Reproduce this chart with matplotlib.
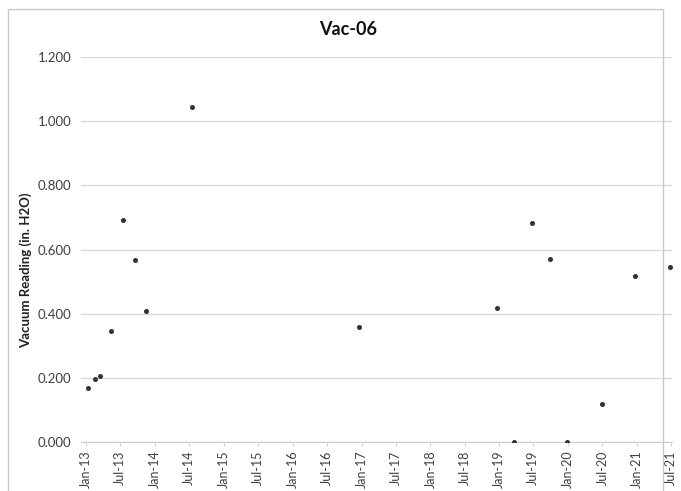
import matplotlib
matplotlib.use("Agg")
import matplotlib.pyplot as plt
import matplotlib.dates as mdates
import matplotlib.ticker as mticker
from matplotlib.patches import Rectangle
import pandas as pd

plt.rcParams['font.family'] = ['Lato', 'DejaVu Sans']

# readings
dates = ['2013-01-10', '2013-02-15', '2013-03-18', '2013-05-12', '2013-07-15',
         '2013-09-15', '2013-11-12', '2014-07-18', '2016-12-20', '2018-12-20',
         '2019-03-20', '2019-06-25', '2019-09-25', '2019-12-28', '2020-06-28',
         '2020-12-20', '2021-06-25']
values = [0.169, 0.196, 0.205, 0.347, 0.693,
          0.566, 0.408, 1.045, 0.357, 0.417,
          0.000, 0.682, 0.571, 0.000, 0.120,
          0.516, 0.545]

df = pd.DataFrame({'date': pd.to_datetime(dates), 'value': values})

fig = plt.figure(figsize=(6.81, 4.91), dpi=100)
ax = fig.add_axes([0.119, 0.0998, 0.868, 0.784])

# chart area border
fig.patches.append(Rectangle((8 / 681, -0.05), 655 / 681, 1.05 - 9 / 491,
                             transform=fig.transFigure, fill=False,
                             edgecolor='#c8c8c8', lw=1))

ax.plot(df['date'], df['value'], linestyle='none', marker='o',
        markersize=2.6, color='#333333', zorder=3)

ax.set_ylim(0, 1.2)
ax.set_xlim(pd.Timestamp('2012-12-05'), pd.Timestamp('2021-07-06'))
ax.yaxis.set_major_locator(mticker.MultipleLocator(0.2))
ax.yaxis.set_major_formatter(mticker.FormatStrFormatter('%.3f'))
ax.xaxis.set_major_locator(mdates.MonthLocator(bymonth=[1, 7]))
ax.xaxis.set_major_formatter(mdates.DateFormatter('%b-%y'))

ax.grid(axis='y', color='#d9d9d9', lw=1)
ax.set_axisbelow(True)
for s in ['top', 'right', 'left']:
    ax.spines[s].set_visible(False)
ax.spines['bottom'].set_color('#d0d0d0')

ax.tick_params(axis='y', length=0, labelsize=9.5, labelcolor='#404040', pad=7)
ax.tick_params(axis='x', length=3, color='#d0d0d0', labelsize=9,
               labelcolor='#404040', labelrotation=90, pad=3)

ax.set_ylabel('Vacuum Reading (in. H2O)', fontsize=9.5, fontweight='bold',
              color='#202020')
ax.yaxis.set_label_coords(-0.082, 0.447)
fig.text(0.511, 0.939, 'Vac-06', ha='center', va='center', fontsize=13,
         fontweight='bold', color='#111111')

fig.savefig('out.png', dpi=100)
